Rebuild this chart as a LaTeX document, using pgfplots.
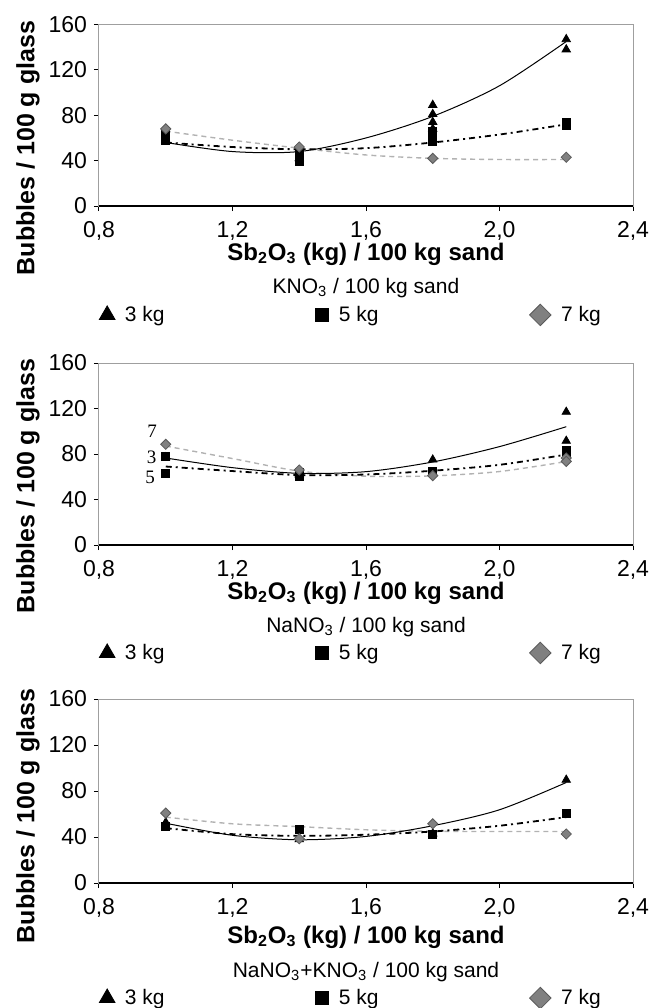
\documentclass[border=0pt]{standalone}
\usepackage{fontspec}
\setmainfont{Liberation Sans}
\newfontfamily\serifnum{Liberation Serif}
\usepackage{pgfplots}
\pgfplotsset{compat=1.18}

\pgfplotsset{
  panel/.style={
    scale only axis,
    width=267pt,
    xmin=0.8, xmax=2.4, ymin=0, ymax=160,
    xtick={0.8,1.2,1.6,2.0,2.4},
    xticklabels={{0,8},{1,2},{1,6},{2,0},{2,4}},
    ytick={0,40,80,120,160},
    tick pos=left,
    tick align=outside,
    major tick length=2.5pt,
    tick style={black, line width=0.5pt},
    axis line style={gray!75, line width=0.5pt},
    /pgf/number format/assume math mode=true,
    tick label style={font=\fontsize{11.5}{13}\selectfont},
    xticklabel style={yshift=-1.5pt},
    clip=false,
    legend columns=3,
    legend cell align=left,
    legend style={draw=none, fill=none, inner sep=0pt,
      font=\fontsize{10.5}{12}\selectfont,
      /tikz/every odd column/.append style={column sep=3pt},
      /tikz/every even column/.append style={column sep=73.5pt}},
  },
  m3/.style={only marks, mark=triangle*, mark size=2.4pt, black, forget plot},
  m5/.style={only marks, mark=square*, mark size=2pt, black, forget plot},
  m7/.style={only marks, mark=square*, mark size=1.8pt, draw=black!65, fill=black!50,
    mark options={rotate=45}, forget plot},
  l3/.style={black, line width=0.5pt, smooth, no marks, forget plot},
  l5/.style={black, line width=0.9pt, smooth, no marks, forget plot,
    dash pattern=on 3pt off 2pt on 1pt off 2pt},
  l7/.style={gray!60, line width=0.7pt, smooth, no marks, forget plot,
    dash pattern=on 2.5pt off 2pt},
}
\newcommand{\xlab}{\textbf{Sb\textsubscript{2}O\textsubscript{3} (kg) / 100 kg sand}}
\newcommand{\ylab}{\textbf{Bubbles / 100 g glass}}
\newcommand{\legentries}{%
  \addlegendimage{only marks, mark=triangle*, mark size=4.5pt, black}
  \addlegendentry{3 kg}
  \addlegendimage{only marks, mark=square*, mark size=3.3pt, black}
  \addlegendentry{5 kg}
  \addlegendimage{only marks, mark=square*, mark size=3.8pt, draw=black!65, fill=black!50,
    mark options={rotate=45}}
  \addlegendentry{7 kg}}

\begin{document}
\begin{tikzpicture}
\useasboundingbox (0,0) rectangle (330.5pt,-504pt);

% ---- KNO3 ----
\begin{axis}[panel, height=90.75pt, at={(49.5pt,-103pt)}, anchor=south west,
  legend style={at={(0,-0.60)}, anchor=west}]
  \addplot[l7] coordinates {(1.0,66) (1.2,58) (1.4,51) (1.6,45) (1.8,42) (2.0,41) (2.2,41)};
  \addplot[l5] coordinates {(1.0,56) (1.2,52) (1.4,50) (1.6,51) (1.8,56) (2.0,63) (2.2,72)};
  \addplot[l3] coordinates {(1.0,56) (1.2,48) (1.4,48) (1.6,60) (1.8,79) (2.0,106) (2.2,145)};
  \addplot[m3] coordinates {(1.0,58) (1.4,42) (1.8,89) (1.8,81) (1.8,74) (1.8,68) (2.2,147) (2.2,138)};
  \addplot[m5] coordinates {(1.0,64) (1.0,58) (1.4,47) (1.4,42) (1.4,39) (1.8,66) (1.8,61) (1.8,57) (2.2,74) (2.2,71)};
  \addplot[m7] coordinates {(1.0,68) (1.4,52) (1.8,42) (2.2,43)};
  \legentries
  \draw[black, line width=0.8pt] (rel axis cs:0,0) -- (rel axis cs:1,0);
  \node[font=\fontsize{12}{14}\selectfont, anchor=center] at (rel axis cs:0.5,0) [yshift=-24pt] {\xlab};
  \node[font=\fontsize{12.5}{14}\selectfont, rotate=90, anchor=center] at (rel axis cs:-0.133,0.319) {\ylab};
  \node[font=\fontsize{10.5}{12}\selectfont, anchor=center] at (rel axis cs:0.5,0) [yshift=-41pt] {KNO\textsubscript{3} / 100 kg sand};
\end{axis}

% ---- NaNO3 ----
\begin{axis}[panel, height=91pt, at={(49.5pt,-272.5pt)}, anchor=south west,
  legend style={at={(0,-0.593)}, anchor=west}]
  \addplot[l7] coordinates {(1.0,87) (1.2,76) (1.4,65) (1.6,60.5) (1.8,60.8) (2.0,64.6) (2.2,73.4)};
  \addplot[l5] coordinates {(1.0,69) (1.2,65) (1.4,61.5) (1.6,62) (1.8,65.3) (2.0,70.5) (2.2,79.5)};
  \addplot[l3] coordinates {(1.0,76.5) (1.2,68) (1.4,63) (1.6,64.5) (1.8,73) (2.0,86.5) (2.2,104)};
  \addplot[m3] coordinates {(1.0,77) (1.4,62) (1.8,75) (2.2,117) (2.2,91.5)};
  \addplot[m5] coordinates {(1.0,77.5) (1.0,63) (1.4,63.5) (1.4,60.5) (1.8,64.5) (2.2,83.5) (2.2,79.5)};
  \addplot[m7] coordinates {(1.0,88.5) (1.4,66) (1.8,61) (2.2,76.5) (2.2,73.5)};
  \legentries
  \draw[black, line width=0.8pt] (rel axis cs:0,0) -- (rel axis cs:1,0);
  \node[font=\serifnum\fontsize{9.5}{10}\selectfont] at (axis cs:0.959,99.6) {7};
  \node[font=\serifnum\fontsize{9.5}{10}\selectfont] at (axis cs:0.958,77.4) {3};
  \node[font=\serifnum\fontsize{9.5}{10}\selectfont] at (axis cs:0.953,59.8) {5};
  \node[font=\fontsize{12}{14}\selectfont, anchor=center] at (rel axis cs:0.5,0) [yshift=-24pt] {\xlab};
  \node[font=\fontsize{12.5}{14}\selectfont, rotate=90, anchor=center] at (rel axis cs:-0.133,0.324) {\ylab};
  \node[font=\fontsize{10.5}{12}\selectfont, anchor=center] at (rel axis cs:0.5,0) [yshift=-41pt] {NaNO\textsubscript{3} / 100 kg sand};
\end{axis}

% ---- NaNO3+KNO3 ----
\begin{axis}[panel, height=92pt, at={(49.5pt,-441.5pt)}, anchor=south west,
  legend style={at={(0,-0.625)}, anchor=west}]
  \addplot[l7] coordinates {(1.0,57.3) (1.2,51.5) (1.4,49) (1.6,46.3) (1.8,45) (2.0,44.8) (2.2,44.8)};
  \addplot[l5] coordinates {(1.0,47.7) (1.2,42.5) (1.4,41) (1.6,42) (1.8,44.8) (2.0,49.8) (2.2,57.3)};
  \addplot[l3] coordinates {(1.0,52) (1.2,41.5) (1.4,37.6) (1.6,40.5) (1.8,49.8) (2.0,63.7) (2.2,87.4)};
  \addplot[m3] coordinates {(1.0,52.7) (1.4,38) (1.8,43) (2.2,89.7)};
  \addplot[m5] coordinates {(1.0,49.2) (1.4,46.3) (1.8,42) (2.2,60.2)};
  \addplot[m7] coordinates {(1.0,60.8) (1.4,38.5) (1.8,51.5) (2.2,42.6)};
  \legentries
  \draw[black, line width=0.8pt] (rel axis cs:0,0) -- (rel axis cs:1,0);
  \node[font=\fontsize{12}{14}\selectfont, anchor=center] at (rel axis cs:0.5,0) [yshift=-27pt] {\xlab};
  \node[font=\fontsize{12.5}{14}\selectfont, rotate=90, anchor=center] at (rel axis cs:-0.133,0.364) {\ylab};
  \node[font=\fontsize{10.5}{12}\selectfont, anchor=center] at (rel axis cs:0.5,0) [yshift=-44.5pt] {NaNO\textsubscript{3}+KNO\textsubscript{3} / 100 kg sand};
\end{axis}
\end{tikzpicture}
\end{document}
